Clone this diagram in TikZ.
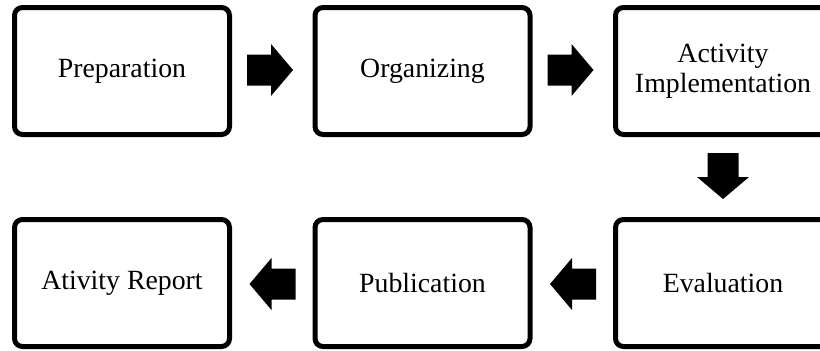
\documentclass[tikz,border=0pt]{standalone}
\usepackage{fontspec}
\setmainfont{Liberation Serif}
\usetikzlibrary{calc}
\tikzset{
  stagebox/.style={draw=black, line width=5pt, rounded corners=8pt, fill=white,
    minimum width=215pt, minimum height=127pt, inner sep=0pt, align=center,
    font=\fontsize{27.8}{30}\selectfont},
}
\newcommand{\blockarrow}[2]{%
  \begin{scope}[shift={#1}, rotate=#2]
    \fill[black] (0pt,15.5pt) -- (24pt,15.5pt) -- (24pt,26pt) -- (46pt,0pt)
      -- (24pt,-26pt) -- (24pt,-15.5pt) -- (0pt,-15.5pt) -- cycle;
  \end{scope}}
\begin{document}
\begin{tikzpicture}[x=1pt,y=-1pt]
\useasboundingbox (0,0) rectangle (820,351);
\clip (0,0) rectangle (820,351);
\node[stagebox] (prep) at (122,71) {Preparation};
\node[stagebox] (org) at (422.5,71) {Organizing};
\node[stagebox] (impl) at (723,71) {Activity\\Implementation};
\node[stagebox] (eval) at (723,283) {Evaluation};
\node[stagebox] (pub) at (422.5,283) {Publication};
\node[stagebox] (rep) at (122,283) {Ativity Report};
% block arrows between stages
\blockarrow{($(prep.east)+(15,-1)$)}{0}
\blockarrow{($(org.east)+(15,-1)$)}{0}
\blockarrow{($(impl.south)+(0,16)$)}{-90}
\blockarrow{($(eval.west)+(-17,1)$)}{180}
\blockarrow{($(pub.west)+(-17,1)$)}{180}
\end{tikzpicture}
\end{document}
